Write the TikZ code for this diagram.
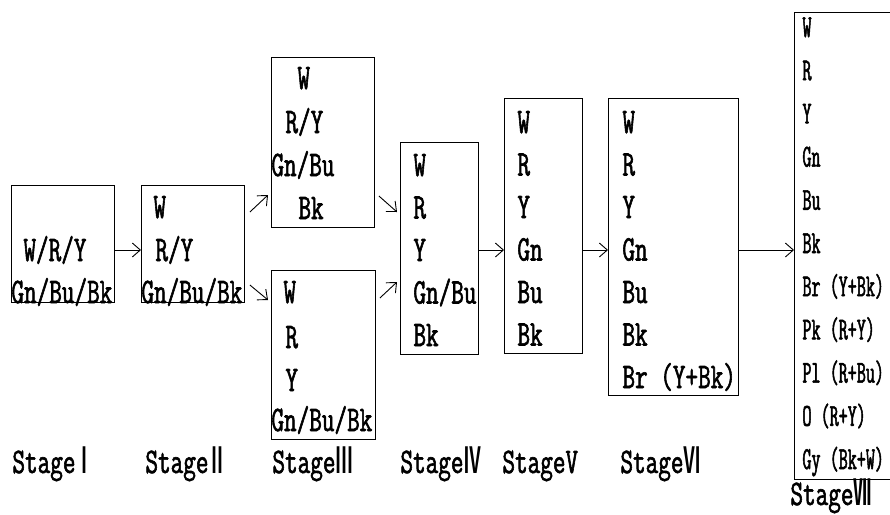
\documentclass[tikz,border=0pt]{standalone}
\usepackage{fontspec}
\setmainfont{Latin Modern Mono}[FakeStretch=0.68, FakeBold=1.6]
\newfontfamily\narrowfont{Latin Modern Mono}[FakeStretch=0.55, FakeBold=1.6]
\newfontfamily\numfont{Noto Sans CJK JP Bold}[FakeStretch=0.5]
\usetikzlibrary{arrows.meta,calc}

\newcommand{\rn}[1]{\smash{\numfont #1}}

\begin{document}
\begin{tikzpicture}[x=1pt, y=-1pt, line width=0.9pt, font=\fontsize{36}{43}\selectfont,
		>={Straight Barb[length=8pt,width=14pt]}]
		\tikzset{stagebox/.style={draw, anchor=north west, inner sep=0pt},
			colour/.style={anchor=base west, inner sep=0pt},
			small colour/.style={colour, font=\narrowfont\fontsize{32}{36}\selectfont},
			stagename/.style={anchor=base west, inner sep=0pt}}
		\useasboundingbox (0,0) rectangle (890,514);
		% boxes
		\node[stagebox, minimum width=103pt, minimum height=117pt] (s1) at (11,185) {};
		\node[stagebox, minimum width=103pt, minimum height=117pt] (s2) at (141,185) {};
		\node[stagebox, minimum width=103pt, minimum height=170pt] (s3a) at (271,57) {};
		\node[stagebox, minimum width=104pt, minimum height=169pt] (s3b) at (271,270) {};
		\node[stagebox, minimum width=78pt, minimum height=212pt] (s4) at (400,142) {};
		\node[stagebox, minimum width=78pt, minimum height=255pt] (s5) at (504,98) {};
		\node[stagebox, minimum width=130pt, minimum height=297pt] (s6) at (608,98) {};
		\node[stagebox, minimum width=110pt, minimum height=467pt] (s7) at (794,12) {};
		% colours
		\node[colour] (c1a) at (23,261) {W/R/Y};
		\node[colour] (c1b) at (11,303) {Gn/Bu/Bk};
		\node[colour] (c2a) at (153,218) {W};
		\node[colour] (c2b) at (155,261) {R/Y};
		\node[colour] (c2c) at (141,303) {Gn/Bu/Bk};
		\node[colour] (c3a) at (297,89) {W};
		\node[colour] (c3b) at (285,133) {R/Y};
		\node[colour] (c3c) at (271,176) {Gn/Bu};
		\node[colour] (c3d) at (298,219) {Bk};
		\node[colour] (c3e) at (283,303) {W};
		\node[colour] (c3f) at (285,348) {R};
		\node[colour] (c3g) at (285,391) {Y};
		\node[colour] (c3h) at (271,431) {Gn/Bu/Bk};
		\foreach \t [count=\i from 0] in {W,R,Y,Gn/Bu,Bk}
			\node[colour] (c4\i) at (413,176+42.5*\i) {\t};
		\foreach \t [count=\i from 0] in {W,R,Y,Gn,Bu,Bk}
			\node[colour] (c5\i) at (517,133+42.5*\i) {\t};
		\foreach \t [count=\i from 0] in {W,R,Y,Gn,Bu,Bk,Br (Y+Bk)}
			\node[colour] (c6\i) at (622,133+42.5*\i) {\t};
		\foreach \t [count=\i from 0] in {W,R,Y,Gn,Bu,Bk,Br (Y+Bk),Pk (R+Y),Pl (R+Bu),O (R+Y),Gy (Bk+W)}
			\node[small colour] (c7\i) at (802,37+43.2*\i) {\t};
		% stage names
		\node[stagename] (n1) at (12,473) {Stage\rn{Ⅰ}};
		\node[stagename] (n2) at (145,473) {Stage\rn{Ⅱ}};
		\node[stagename] (n3) at (272,473) {Stage\rn{Ⅲ}};
		\node[stagename] (n4) at (400,473) {Stage\rn{Ⅳ}};
		\node[stagename] (n5) at (502,473) {StageV};
		\node[stagename] (n6) at (620,473) {Stage\rn{Ⅵ}};
		\node[stagename] (n7) at (790,505) {Stage\rn{Ⅶ}};
		% arrows
		\coordinate (mid) at (0,250);
		\draw[->] (s1.east |- mid) -- (s2.west |- mid);
		\draw[->] ([xshift=5pt]s2.east |- 0,212) -- ([xshift=-3pt]s3a.west |- 0,195);
		\draw[->] ([xshift=5pt]s2.east |- 0,285) -- ([xshift=-3pt]s3b.west |- 0,300);
		\draw[->] ([xshift=4pt]s3a.east |- 0,196) -- ([xshift=-3pt]s4.west |- 0,212);
		\draw[->] ([xshift=4pt]s3b.east |- 0,298) -- ([xshift=-3pt]s4.west |- 0,282);
		\draw[->] (s4.east |- mid) -- (s5.west |- mid);
		\draw[->] (s5.east |- mid) -- (s6.west |- mid);
		\draw[->] (s6.east |- mid) -- (s7.west |- mid);
	\end{tikzpicture}
\end{document}
